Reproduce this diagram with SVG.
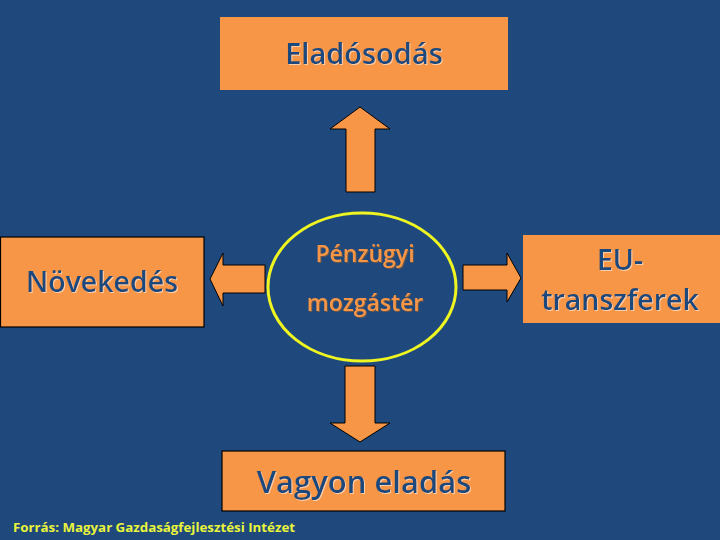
<svg xmlns="http://www.w3.org/2000/svg" width="720" height="540" viewBox="0 0 720 540">
<style>
.box{fill:#F79646;}
.bordered{stroke:#000;stroke-width:1.2;}
.arrow{fill:#F79646;stroke:#000;stroke-width:1;stroke-linejoin:miter;}
.lbl{font-family:"Open Sans","Noto Sans","DejaVu Sans",sans-serif;font-weight:600;fill:#1F497D;text-anchor:middle;}
.olbl{font-family:"Open Sans","Noto Sans","DejaVu Sans",sans-serif;font-weight:600;fill:#F79646;text-anchor:middle;}
.src{font-family:"Open Sans","Noto Sans","DejaVu Sans",sans-serif;font-weight:700;fill:#E8F53A;font-size:13px;}
</style>
<defs>
<filter id="shl" x="-5%" y="-20%" width="110%" height="140%">
<feDropShadow dx="1" dy="1" stdDeviation="0.3" flood-color="#FBD5B5" flood-opacity="0.9"/>
</filter>
<filter id="shd" x="-5%" y="-20%" width="110%" height="140%">
<feDropShadow dx="1" dy="1" stdDeviation="0.3" flood-color="#7F5A3A" flood-opacity="0.8"/>
</filter>
</defs>
<rect width="720" height="540" fill="#1F497D"/>
<g id="connectors">
<polygon class="arrow" points="346,192 346,129 330,129 360,107 390,129 375,129 375,192"/>
<polygon class="arrow" points="265,265 223,265 223,253 210,279 223,306 223,293 265,293"/>
<polygon class="arrow" points="463,265 507,265 507,253 521,278 507,302 507,290 463,290"/>
<polygon class="arrow" points="345,366 375,366 375,423 390,423 360,442 330,423 345,423"/>
</g>
<g id="node-eladosodas">
<rect class="box" x="220" y="17" width="288" height="73"/>
<text class="lbl" x="364" y="64" font-size="29" filter="url(#shl)">Eladósodás</text>
</g>
<g id="node-center">
<ellipse cx="362" cy="287" rx="94" ry="74" fill="#1F497D" stroke="#EEF520" stroke-width="3"/>
<text class="olbl" x="365" y="262" font-size="23" filter="url(#shd)">Pénzügyi</text>
<text class="olbl" x="365" y="311" font-size="23" filter="url(#shd)">mozgástér</text>
</g>
<g id="node-novekedes">
<rect class="box bordered" x="0.5" y="237" width="203.5" height="90"/>
<text class="lbl" x="102" y="292" font-size="28.5" filter="url(#shl)">Növekedés</text>
</g>
<g id="node-eu">
<rect class="box" x="523" y="235" width="197" height="88"/>
<text class="lbl" x="620" y="270" font-size="28.5" filter="url(#shl)">EU-</text>
<text class="lbl" x="620" y="310" font-size="28.5" filter="url(#shl)">transzferek</text>
</g>
<g id="node-vagyon">
<rect class="box bordered" x="222" y="451" width="283" height="60"/>
<text class="lbl" x="364" y="493" font-size="31" filter="url(#shl)">Vagyon eladás</text>
</g>
<text class="src" x="13" y="532" textLength="282" lengthAdjust="spacingAndGlyphs">Forrás: Magyar Gazdaságfejlesztési Intézet</text>
</svg>
